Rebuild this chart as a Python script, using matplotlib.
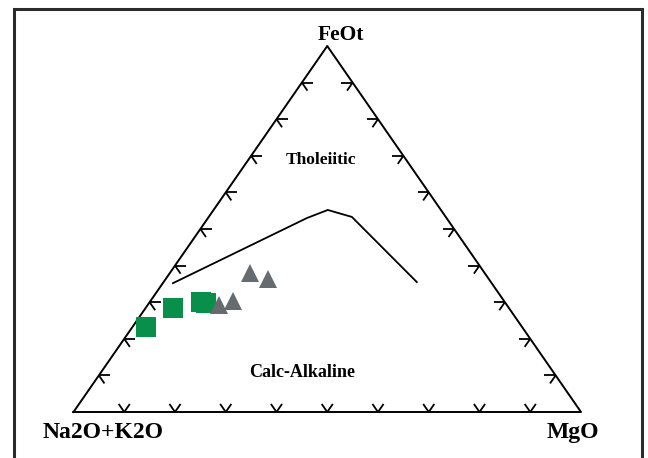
import numpy as np
import matplotlib
matplotlib.use('Agg')
import matplotlib.pyplot as plt
from matplotlib.patches import Rectangle

# AFM compositions (fractions): A = Na2O+K2O, F = FeOt, M = MgO
sq_A = [0.741, 0.662, 0.599, 0.590]
sq_F = [0.232, 0.284, 0.300, 0.298]
sq_M = [0.027, 0.054, 0.101, 0.112]

tri_A = [0.462, 0.435, 0.567, 0.534]
tri_F = [0.380, 0.363, 0.292, 0.303]
tri_M = [0.158, 0.202, 0.141, 0.163]

# Tholeiitic / calc-alkaline boundary
bnd_A = [0.628, 0.275, 0.223, 0.185, 0.146]
bnd_F = [0.352, 0.530, 0.552, 0.533, 0.355]
bnd_M = [0.020, 0.195, 0.225, 0.282, 0.499]

tick_vals = [0.1, 0.2, 0.3, 0.4, 0.5, 0.6, 0.7, 0.8, 0.9]


def tern(A, F, M):
    A = np.asarray(A, float); F = np.asarray(F, float); M = np.asarray(M, float)
    s = A + F + M
    return (M + F / 2) / s, F / s


fig = plt.figure(figsize=(6.48, 4.58), dpi=100)
ax = fig.add_axes([73.5 / 648, 46 / 458, 507.5 / 648, 366 / 458])
ax.set_xlim(0, 1)
ax.set_ylim(0, 1)
ax.axis('off')

# outer frame
fig.add_artist(Rectangle((14 / 648, -0.1), 628 / 648, 1.1 - 9 / 458,
                         transform=fig.transFigure, fill=False,
                         edgecolor='#2b2b2b', linewidth=2.2))

tk = dict(color='black', lw=1.3, clip_on=False, solid_capstyle='butt')

# triangle outline
ox, oy = tern([1, 0, 0, 1], [0, 0, 1, 0], [0, 1, 0, 0])
ax.plot(ox, oy, color='black', lw=1.4, clip_on=False)

# chevron ticks
t = 0.022
for v in tick_vals:
    # base: F = 0
    a, f, m = 1 - v, 0.0, v
    for A2, F2, M2 in [(a - t, f + t, m), (a, f + t, m - t)]:
        x, y = tern([A2, a], [F2, f], [M2, m])
        ax.plot(x, y, **tk)
    # left edge: M = 0
    a, f, m = 1 - v, v, 0.0
    for A2, F2, M2 in [(a - t, f, m + t), (a, f - t, m + t)]:
        x, y = tern([A2, a], [F2, f], [M2, m])
        ax.plot(x, y, **tk)
    # right edge: A = 0
    a, f, m = 0.0, v, 1 - v
    for A2, F2, M2 in [(a + t, f, m - t), (a + t, f - t, m)]:
        x, y = tern([A2, a], [F2, f], [M2, m])
        ax.plot(x, y, **tk)

# boundary
bx, by = tern(bnd_A, bnd_F, bnd_M)
ax.plot(bx, by, color='black', lw=1.3)

# samples
sx, sy = tern(sq_A, sq_F, sq_M)
ax.plot(sx, sy, 's', color='#08904a', markersize=14, markeredgewidth=0,
        linestyle='none')
tx, ty = tern(tri_A, tri_F, tri_M)
ax.plot(tx, ty, '^', color='#656b6e', markersize=13, markeredgewidth=0,
        linestyle='none')

font = dict(family='Liberation Serif', weight='bold')
ax.text(0.526, 1.016, 'FeOt', ha='center', va='baseline', fontsize=15.5, **font)
ax.text(0.059, -0.071, 'Na2O+K2O', ha='center', va='baseline', fontsize=17, **font)
ax.text(0.984, -0.071, 'MgO', ha='center', va='baseline', fontsize=17, **font)

lx, ly = tern([0.168, 0.495], [0.6885, 0.109], [0.143, 0.396])
ax.text(lx[0], ly[0], 'Tholeiitic', ha='center', va='center', fontsize=12.5, **font)
ax.text(lx[1], ly[1], 'Calc-Alkaline', ha='center', va='center', fontsize=13, **font)

fig.savefig('out.png', dpi=100)
